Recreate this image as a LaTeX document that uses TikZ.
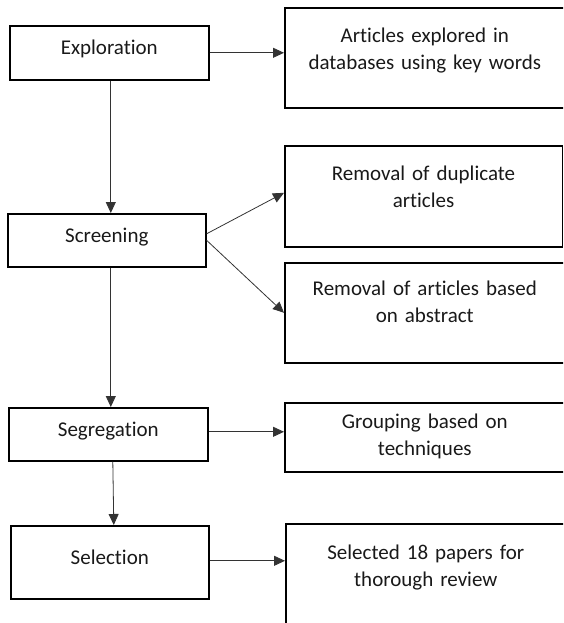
\documentclass[tikz,border=0pt]{standalone}
\usepackage{fontspec}
\setmainfont[Ligatures={NoCommon}]{Carlito}
\usetikzlibrary{arrows.meta,positioning}
\newcommand{\stepfont}{\fontsize{21}{26.9}\selectfont}
\tikzset{
  stage/.style={draw=black,line width=1.6pt,anchor=north west,minimum width=199pt,minimum height=54pt,font=\stepfont,text=black!90,text height=10pt,text depth=6pt},
  outcome/.style={draw=black,line width=1.6pt,anchor=north west,minimum width=280pt,font=\stepfont,text=black!90,text width=260pt,align=center,text height=10pt},
  flow/.style={draw=black!80,line width=0.8pt,-{Triangle[length=11pt,width=10pt]}}
}
\begin{document}
\begin{tikzpicture}[x=1pt,y=-1pt]
            \useasboundingbox (0,0) rectangle (563,623);
            \clip (0,0) rectangle (563,623);
            \node[stage] (expl) at (9,25) {Exploration};
            \node[stage,minimum width=198pt,minimum height=53pt] (scr) at (7,213) {Screening};
            \node[stage,minimum height=53pt] (seg) at (8,407) {Segregation};
            \node[stage,minimum width=198pt,minimum height=73pt] (sel) at (10,525) {Selection};
            \node[outcome,minimum height=100pt,text depth=40pt] (art) at (284,7) {Articles explored in\\databases using key words};
            \node[outcome,minimum width=277.5pt,minimum height=101pt,text depth=41pt] (dup) at (284,145) {Removal of duplicate\\articles};
            \node[outcome,minimum height=100pt,text depth=44pt] (abs) at (284,262) {Removal of articles based\\on abstract};
            \node[outcome,minimum height=69pt,text depth=27pt] (grp) at (284,402) {Grouping based on\\techniques};
            \node[outcome,minimum height=117pt,text depth=55pt] (rev) at (285,523) {Selected 18 papers for\\thorough review};
            \draw[flow] (expl.east) -- (expl.east -| art.west);
            \draw[flow] ([xshift=1.5pt]expl.south) -- ([xshift=4pt]scr.north);
            \draw[flow] ([yshift=6.5pt]scr.east) -- ([yshift=3.5pt]dup.west);
            \draw[flow] (scr.east) -- (abs.west);
            \draw[flow] ([xshift=4pt]scr.south) -- ([xshift=2.5pt]seg.north);
            \draw[flow] ([yshift=2.5pt]seg.east) -- ([yshift=2.5pt]seg.east -| grp.west);
            \draw[flow] ([xshift=4.5pt]seg.south) -- ([xshift=4pt]sel.north);
            \draw[flow] ([yshift=1.5pt]sel.east) -- ([yshift=1.5pt]sel.east -| rev.west);
\end{tikzpicture}
\end{document}
